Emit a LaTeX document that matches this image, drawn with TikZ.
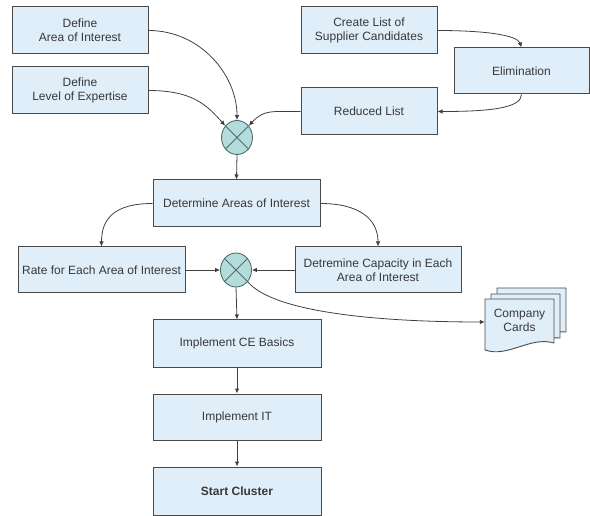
\documentclass[tikz,border=0pt]{standalone}
\usepackage{fontspec}
\setmainfont{Liberation Sans}
\usetikzlibrary{arrows.meta,shapes.geometric}
\definecolor{boxfill}{HTML}{E0EEFA}
\definecolor{boxline}{HTML}{4A4A4A}
\definecolor{txt}{HTML}{383838}
\definecolor{circfill}{HTML}{B4DCDC}
\definecolor{circline}{HTML}{4E6E6E}
\definecolor{conn}{HTML}{404040}
\tikzset{
  stepbox/.style={draw=boxline, fill=boxfill, line width=1pt, rectangle,
    inner sep=1pt, align=center, text=txt,
    font=\fontsize{12}{14}\selectfont},
  junction/.style={draw=circline, fill=circfill, line width=0.9pt, ellipse,
    minimum width=31pt, minimum height=34pt, inner sep=0pt},
  arr/.style={draw=conn, line width=0.8pt, -{Latex[length=5pt,width=4.5pt]}},
  page/.style={draw=boxline, fill=boxfill, line width=0.9pt, line join=round}
}
\begin{document}
\begin{tikzpicture}[x=1pt,y=-1pt]
\useasboundingbox (0,0) rectangle (590,516);
% boxes
\node[stepbox, minimum width=136pt, minimum height=47pt] (defA) at (80,30.5) {Define\\Area of Interest};
\node[stepbox, minimum width=136pt, minimum height=47pt] (defL) at (80,90.5) {Define\\Level of Expertise};
\node[stepbox, minimum width=136pt, minimum height=47pt] (create) at (369,30.5) {Create List of\\Supplier Candidates};
\node[stepbox, minimum width=135pt, minimum height=46pt] (elim) at (521.5,71) {Elimination};
\node[stepbox, minimum width=136pt, minimum height=47pt] (reduced) at (369,111.5) {Reduced List};
\node[junction] (c1) at (237,137.5) {};
\draw[circline, line width=0.9pt] (c1.45) -- (c1.225) (c1.135) -- (c1.315);
\node[stepbox, minimum width=167pt, minimum height=47pt] (detA) at (236.5,203.5) {Determine Areas of Interest};
\node[stepbox, minimum width=167pt, minimum height=46pt] (rate) at (101.5,270) {Rate for Each Area of Interest};
\node[stepbox, minimum width=166pt, minimum height=46pt] (detC) at (378,270) {Detremine Capacity in Each\\Area of Interest};
\node[junction] (c2) at (236,270) {};
\draw[circline, line width=0.9pt] (c2.45) -- (c2.225) (c2.135) -- (c2.315);
\node[stepbox, minimum width=168pt, minimum height=47pt] (ce) at (237,343.5) {Implement CE Basics};
\node[stepbox, minimum width=168pt, minimum height=46pt] (it) at (237,417) {Implement IT};
\node[stepbox, minimum width=168pt, minimum height=48pt, font=\fontsize{12}{14}\selectfont\bfseries] (start) at (237,491) {Start Cluster};
% company cards (multi-document)
\draw[page] (497,330) -- (497,288) -- (566,288) -- (566,332) -- cycle;
\draw[page] (491,336) -- (491,294) -- (560,294) -- (560,338) -- cycle;
\draw[page] (485,350) -- (485,299) -- (554,299) -- (554,343)
  .. controls (530,336) and (508,358) .. (485,350) -- cycle;
\node[text=txt, font=\fontsize{12}{14}\selectfont, align=center, minimum width=69pt, inner sep=0pt] (cards) at (519.5,320) {Company\\Cards};
% connectors
\draw[arr] (defA.east) .. controls +(52,0) and +(0,-45) .. (c1.north);
\draw[arr] (defL.east) .. controls +(45,0) and +(-18,-20) .. (c1.135);
\draw[arr] (reduced.west) .. controls +(-30,0) and +(15,-16) .. (c1.45);
\draw[arr] (create.east) .. controls +(50,0) and +(-4,-12) .. (elim.north);
\draw[arr] (elim.south) .. controls +(0,14) and +(50,0) .. (reduced.east);
\draw[arr] (c1.south) -- (detA.north);
\draw[arr] (detA.west) .. controls +(-38,0) and +(0,-28) .. (rate.north);
\draw[arr] (detA.east) .. controls +(38,0) and +(0,-28) .. (detC.north);
\draw[arr] (rate.east) -- (c2.west);
\draw[arr] (detC.west) -- (c2.east);
\draw[arr] (c2.315) .. controls +(25,30) and +(-110,0) .. (cards.west |- 0,322);
\draw[arr] (c2.south) -- (ce.north);
\draw[arr] (ce.south) -- (it.north);
\draw[arr] (it.south) -- (start.north);
\end{tikzpicture}
\end{document}
